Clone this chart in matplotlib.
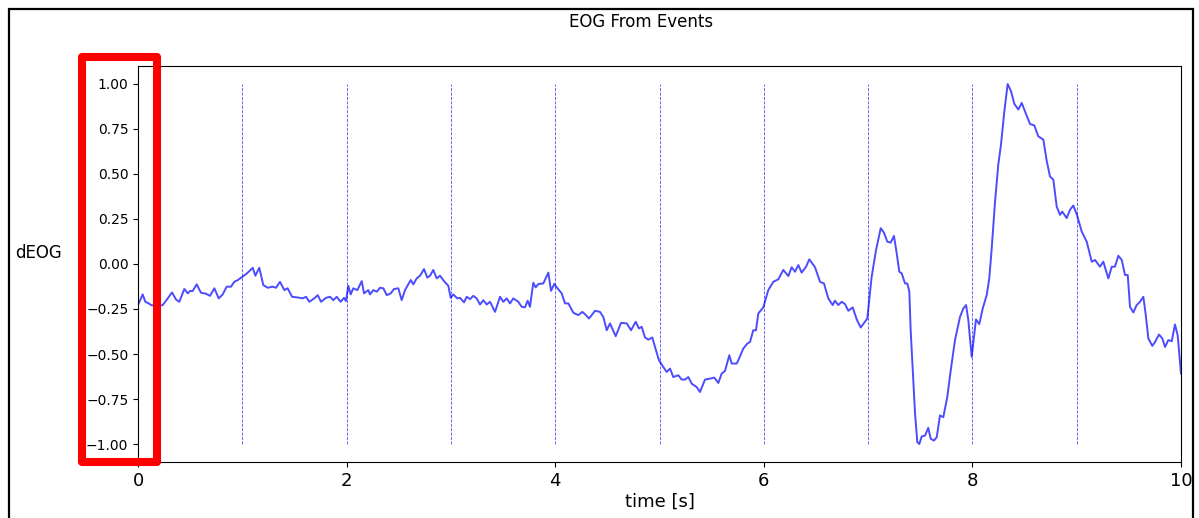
import matplotlib
matplotlib.use("Agg")
import matplotlib.pyplot as plt
from matplotlib.patches import Rectangle

# normalised EOG derivative vs time (s)
time_s = [
    0.000, 0.045, 0.070, 0.103, 0.125, 0.182, 0.237, 0.285, 0.326, 0.364,
    0.396, 0.444, 0.477, 0.499, 0.524, 0.563, 0.604, 0.652, 0.690, 0.732,
    0.774, 0.812, 0.850, 0.892, 0.923, 0.958, 0.997, 1.035, 1.061, 1.100,
    1.125, 1.163, 1.201, 1.244, 1.291, 1.323, 1.361, 1.403, 1.435, 1.477,
    1.531, 1.579, 1.611, 1.642, 1.690, 1.723, 1.755, 1.802, 1.841, 1.873,
    1.905, 1.943, 1.975, 1.994, 2.016, 2.039, 2.064, 2.103, 2.145, 2.167,
    2.208, 2.224, 2.256, 2.289, 2.320, 2.352, 2.385, 2.423, 2.454, 2.496,
    2.528, 2.560, 2.592, 2.615, 2.640, 2.672, 2.704, 2.742, 2.774, 2.800,
    2.831, 2.864, 2.895, 2.934, 2.975, 2.998, 3.023, 3.061, 3.087, 3.126,
    3.151, 3.183, 3.215, 3.247, 3.279, 3.311, 3.343, 3.375, 3.423, 3.471,
    3.502, 3.535, 3.567, 3.598, 3.646, 3.679, 3.710, 3.736, 3.758, 3.790,
    3.813, 3.838, 3.886, 3.934, 3.960, 3.991, 4.030, 4.062, 4.094, 4.126,
    4.174, 4.222, 4.260, 4.286, 4.324, 4.382, 4.429, 4.461, 4.494, 4.525,
    4.580, 4.631, 4.686, 4.727, 4.772, 4.803, 4.829, 4.861, 4.893, 4.931,
    4.957, 4.995, 5.036, 5.069, 5.101, 5.132, 5.180, 5.213, 5.244, 5.276,
    5.309, 5.357, 5.388, 5.436, 5.484, 5.525, 5.564, 5.596, 5.628, 5.669,
    5.692, 5.740, 5.772, 5.803, 5.842, 5.868, 5.899, 5.925, 5.947, 5.995,
    6.043, 6.091, 6.139, 6.187, 6.235, 6.267, 6.299, 6.331, 6.363, 6.405,
    6.436, 6.491, 6.539, 6.577, 6.618, 6.660, 6.682, 6.714, 6.747, 6.779,
    6.810, 6.852, 6.891, 6.929, 6.970, 6.992, 7.034, 7.076, 7.121, 7.152,
    7.184, 7.217, 7.248, 7.274, 7.299, 7.322, 7.354, 7.376, 7.395, 7.408,
    7.428, 7.450, 7.472, 7.491, 7.514, 7.546, 7.577, 7.600, 7.632, 7.658,
    7.689, 7.721, 7.759, 7.792, 7.833, 7.881, 7.913, 7.939, 7.961, 7.993,
    8.008, 8.034, 8.066, 8.099, 8.137, 8.162, 8.185, 8.217, 8.248, 8.274,
    8.306, 8.338, 8.370, 8.402, 8.440, 8.473, 8.504, 8.552, 8.593, 8.632,
    8.680, 8.712, 8.744, 8.776, 8.808, 8.840, 8.862, 8.904, 8.936, 8.967,
    9.000, 9.048, 9.096, 9.144, 9.176, 9.223, 9.255, 9.303, 9.336, 9.367,
    9.399, 9.432, 9.463, 9.489, 9.511, 9.543, 9.575, 9.607, 9.639, 9.662,
    9.687, 9.725, 9.751, 9.789, 9.821, 9.847, 9.878, 9.911, 9.942, 9.968,
    10.000,
]
deog = [
    -0.228, -0.169, -0.210, -0.219, -0.228, -0.234, -0.228, -0.191, -0.158, -0.197,
    -0.210, -0.139, -0.163, -0.150, -0.150, -0.113, -0.160, -0.165, -0.177, -0.135,
    -0.191, -0.169, -0.126, -0.126, -0.099, -0.089, -0.072, -0.057, -0.043, -0.021,
    -0.065, -0.021, -0.117, -0.132, -0.126, -0.132, -0.099, -0.145, -0.135, -0.182,
    -0.186, -0.191, -0.182, -0.210, -0.191, -0.173, -0.210, -0.188, -0.182, -0.201,
    -0.182, -0.210, -0.188, -0.206, -0.121, -0.169, -0.135, -0.145, -0.095, -0.163,
    -0.145, -0.169, -0.145, -0.154, -0.132, -0.135, -0.173, -0.163, -0.139, -0.135,
    -0.201, -0.145, -0.113, -0.089, -0.113, -0.080, -0.065, -0.028, -0.076, -0.065,
    -0.033, -0.080, -0.065, -0.095, -0.121, -0.188, -0.169, -0.191, -0.188, -0.213,
    -0.182, -0.195, -0.177, -0.191, -0.225, -0.201, -0.225, -0.210, -0.266, -0.182,
    -0.210, -0.191, -0.219, -0.191, -0.210, -0.238, -0.241, -0.204, -0.238, -0.104,
    -0.130, -0.111, -0.108, -0.048, -0.149, -0.111, -0.141, -0.163, -0.219, -0.219,
    -0.271, -0.284, -0.266, -0.279, -0.303, -0.260, -0.266, -0.294, -0.368, -0.330,
    -0.401, -0.327, -0.330, -0.368, -0.321, -0.358, -0.349, -0.408, -0.420, -0.408,
    -0.461, -0.535, -0.572, -0.600, -0.581, -0.628, -0.618, -0.642, -0.642, -0.628,
    -0.665, -0.684, -0.711, -0.642, -0.637, -0.631, -0.661, -0.609, -0.594, -0.507,
    -0.553, -0.553, -0.513, -0.470, -0.442, -0.433, -0.368, -0.368, -0.275, -0.241,
    -0.145, -0.099, -0.085, -0.033, -0.067, -0.018, -0.043, -0.006, -0.048, -0.015,
    0.026, -0.018, -0.099, -0.108, -0.191, -0.228, -0.204, -0.228, -0.210, -0.223,
    -0.260, -0.241, -0.308, -0.353, -0.321, -0.303, -0.071, 0.078, 0.199, 0.174,
    0.124, 0.119, 0.156, 0.060, -0.043, -0.052, -0.108, -0.108, -0.154, -0.368,
    -0.591, -0.832, -0.990, -1.000, -0.958, -0.953, -0.910, -0.971, -0.981, -0.962,
    -0.841, -0.851, -0.739, -0.591, -0.423, -0.294, -0.247, -0.228, -0.312, -0.516,
    -0.442, -0.308, -0.334, -0.247, -0.173, -0.078, 0.087, 0.347, 0.552, 0.663,
    0.848, 1.000, 0.960, 0.890, 0.858, 0.895, 0.848, 0.778, 0.770, 0.709,
    0.691, 0.574, 0.486, 0.468, 0.319, 0.273, 0.291, 0.255, 0.301, 0.325,
    0.277, 0.180, 0.124, 0.013, 0.022, -0.015, 0.013, -0.080, -0.015, -0.015,
    0.046, 0.022, -0.061, -0.061, -0.238, -0.269, -0.228, -0.210, -0.182, -0.284,
    -0.414, -0.455, -0.433, -0.392, -0.414, -0.461, -0.423, -0.429, -0.336, -0.396,
    -0.609,
]

event_times = [1, 2, 3, 4, 5, 6, 7, 8, 9]
x_ticks = [0, 2, 4, 6, 8, 10]
y_ticks = [-1.0, -0.75, -0.5, -0.25, 0.0, 0.25, 0.5, 0.75, 1.0]


def main():
    fig = plt.figure(figsize=(11.99, 5.18), dpi=100)
    ax = fig.add_axes([0.1151, 0.1081, 0.8699, 0.7645])

    ax.plot(time_s, deog, color="b", alpha=0.7, linewidth=1.4)
    ax.vlines(event_times, -1, 1, colors="b", linestyles="--",
              linewidth=0.6, alpha=0.7)

    ax.set_xlim(0, 10)
    ax.set_ylim(-1.1, 1.1)
    ax.set_xticks(x_ticks)
    ax.set_yticks(y_ticks)
    ax.set_yticklabels([f"{v:.2f}".replace("-", "\u2212") for v in y_ticks])
    ax.tick_params(axis="x", labelsize=13)
    ax.tick_params(axis="y", labelsize=10)

    ax.set_xlabel("time [s]", fontsize=13, labelpad=2)
    ax.set_ylabel("dEOG", fontsize=12, rotation=0, ha="right", va="center")
    ax.yaxis.set_label_coords(-0.073, 0.528)
    fig.text(0.535, 0.957, "EOG From Events", fontsize=12, ha="center", va="center")

    # frame around the whole figure
    fig.add_artist(Rectangle((0.0075, -0.05), 0.9875, 1.0326, transform=fig.transFigure,
                             fill=False, edgecolor="black", linewidth=1.6, zorder=10))
    # red highlight box over the y tick labels
    fig.add_artist(Rectangle((0.0684, 0.1081), 0.0625, 0.7819, transform=fig.transFigure,
                             fill=False, edgecolor="#ff0000", linewidth=5.8,
                             joinstyle="round", zorder=11))

    plt.savefig("out.png", dpi=100)


if __name__ == "__main__":
    main()
